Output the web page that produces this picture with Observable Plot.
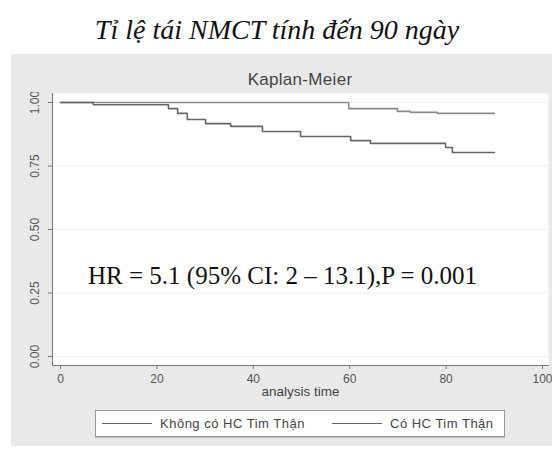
<!DOCTYPE html>
<html><head><meta charset="utf-8">
<script src="https://cdn.jsdelivr.net/npm/d3@7"></script>
<script src="https://cdn.jsdelivr.net/npm/@observablehq/plot@0.6"></script>
<style>
body{margin:0;background:#fff;width:554px;height:449px;position:relative;overflow:hidden;font-family:"Liberation Sans",Arial,sans-serif}
#title{position:absolute;left:0;width:554px;top:14px;line-height:1;text-align:center;font:italic 28px "Liberation Serif",serif;color:#111;white-space:nowrap}
#panel{position:absolute;left:11px;top:54px;width:541px;height:392px;background:#e9e9e9}
#km{position:absolute;left:200px;width:200px;top:70px;line-height:20px;text-align:center;font-size:17px;color:#444;letter-spacing:0.3px}
#chart{position:absolute;left:11px;top:92px}
#hr{position:absolute;left:88px;top:262px;line-height:1;font:25px "Liberation Serif",serif;color:#111;white-space:nowrap}
#legend{position:absolute;left:95px;top:410px;width:408px;height:25px;background:#fff;border:1px solid #999;box-shadow:0 1px 0 #bbb}
.li{position:absolute;top:12px;width:50px;height:0;border-top:1.5px solid #666}
.lt{position:absolute;top:5px;font-size:13px;color:#444;letter-spacing:0.5px;white-space:nowrap}
</style></head>
<body>
<div id="title"></div>
<div id="panel"></div>
<div id="km"></div>
<div id="chart"></div>
<div id="hr"></div>
<div id="legend"></div>
<script>
// ---- data ----
const titleText = "Tỉ lệ tái NMCT tính đến 90 ngày";
const subtitleText = "Kaplan-Meier";
const xLabel = "analysis time";
const hrText = "HR = 5.1 (95% CI: 2 – 13.1),P = 0.001";
const groupNames = ["Không có HC Tim Thận", "Có HC Tim Thận"];
const xTicks = [0, 20, 40, 60, 80, 100];
const yTicks = [0, 0.25, 0.5, 0.75, 1];
// Không có HC Tim Thận
const noTimes = [0, 59.8, 69.9, 72.6, 78.2, 90];
const noSurv  = [1, 0.976, 0.965, 0.961, 0.957, 0.957];
// Có HC Tim Thận
const coTimes = [0, 6.8, 22.4, 24.3, 26.3, 30.1, 35.3, 41.9, 49.8, 60.2, 64.3, 79.9, 81.3, 90];
const coSurv  = [1, 0.991, 0.976, 0.957, 0.933, 0.917, 0.906, 0.886, 0.866, 0.850, 0.839, 0.823, 0.803, 0.803];

const noRows = noTimes.map((t, i) => ({t, s: noSurv[i]}));
const coRows = coTimes.map((t, i) => ({t, s: coSurv[i]}));

document.getElementById("title").textContent = titleText;
document.getElementById("km").textContent = subtitleText;
document.getElementById("hr").textContent = hrText;

const plot = Plot.plot({
  width: 541,
  height: 310,
  marginLeft: 41,
  marginRight: 4,
  marginTop: 1,
  marginBottom: 37,
  insetLeft: 8,
  insetRight: 6,
  insetTop: 9,
  insetBottom: 9,
  style: {background: "transparent", fontFamily: "Liberation Sans, Arial, sans-serif", fontSize: "12px", color: "#555"},
  x: {domain: [0, 100], label: null},
  y: {domain: [0, 1], label: null},
  marks: [
    Plot.frame({fill: "white", stroke: null}),
    Plot.gridY(yTicks, {stroke: "#eeeeee", strokeOpacity: 1}),
    Plot.frame({anchor: "left", stroke: "#777"}),
    Plot.frame({anchor: "bottom", stroke: "#777"}),
    Plot.axisY(yTicks, {tickFormat: d3.format(".2f"), tickRotate: -90, tickSize: 4, tickPadding: 10, fill: "#555", stroke: "#777", label: null}),
    Plot.axisX(xTicks, {tickSize: 4, tickPadding: 5, fill: "#555", stroke: "#777", label: null}),
    Plot.text([xLabel], {frameAnchor: "bottom", dy: 30, fill: "#444", fontSize: 13.5}),
    Plot.line(noRows, {x: "t", y: "s", curve: "step-after", stroke: "#8a8a8a", strokeWidth: 1.6}),
    Plot.line(coRows, {x: "t", y: "s", curve: "step-after", stroke: "#666", strokeWidth: 1.6})
  ]
});
document.getElementById("chart").appendChild(plot);

const leg = document.getElementById("legend");
const legPos = [{line: 6, text: 64}, {line: 236, text: 294}];
groupNames.forEach((g, i) => {
  const l = document.createElement("div"); l.className = "li"; l.style.left = legPos[i].line + "px"; leg.appendChild(l);
  const t = document.createElement("div"); t.className = "lt"; t.style.left = legPos[i].text + "px"; t.textContent = g; leg.appendChild(t);
});
</script>
</body></html>
